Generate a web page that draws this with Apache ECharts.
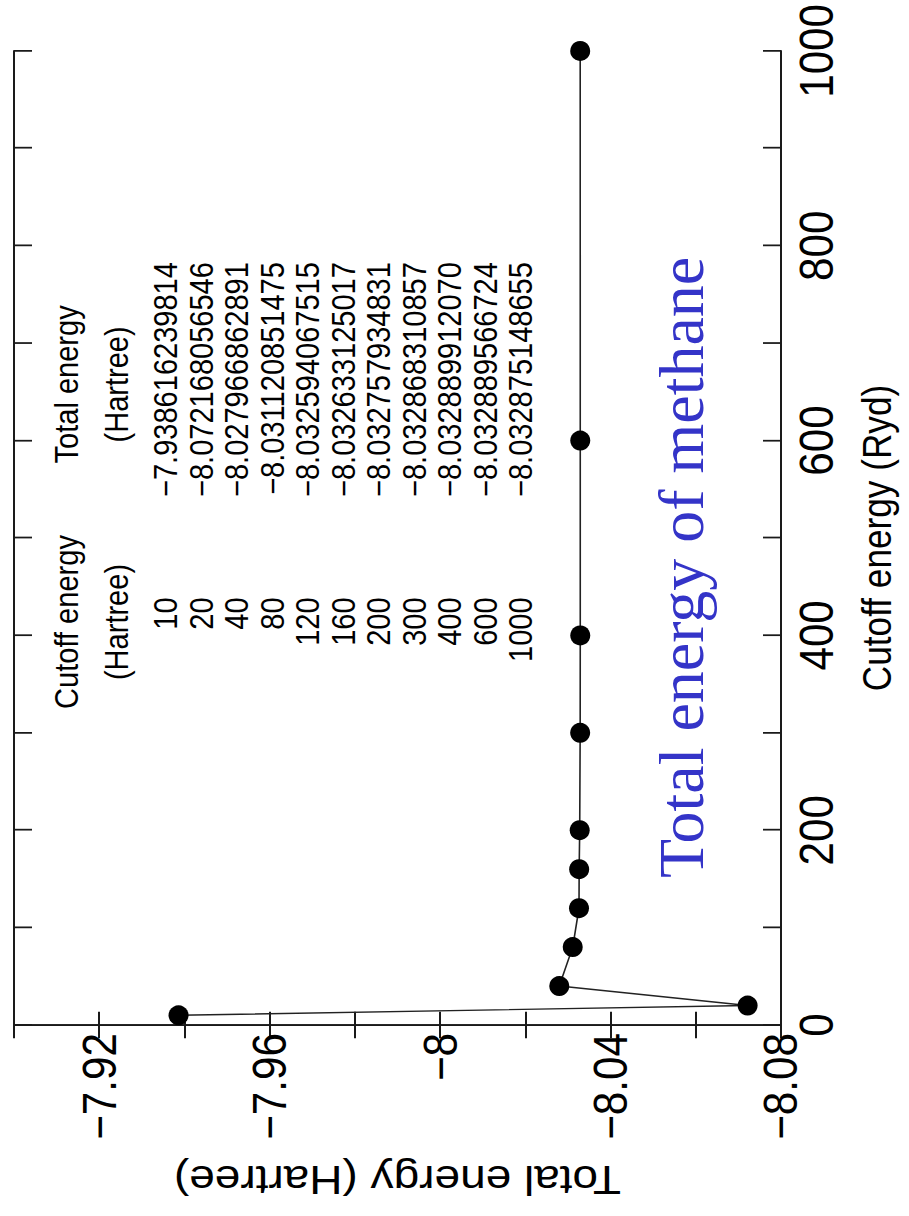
<!DOCTYPE html>
<html>
<head>
    <meta charset="utf-8">
    <title>Total energy of methane</title>
    <script src="https://cdn.jsdelivr.net/npm/echarts@6/dist/echarts.min.js"></script>
    <style type="text/css">
        * {
            margin: 0;
            padding: 0;
        }

        body {
            width: 909px;
            height: 1216px;
            overflow: hidden;
            background: #fff;
            position: relative;
        }

        /* the chart is drawn upright, then squeezed and turned a quarter to the left */
        #main {
            position: absolute;
            left: 0;
            top: 0;
            width: 1382px;
            height: 909px;
            transform-origin: 0 0;
            transform: translateY(1216px) rotate(-90deg) scaleX(0.88);
        }
    </style>
</head>
<body>
<div id="main"></div>
</body>
<script type="text/javascript">
    // cutoff energy and total energy of methane
    var cutoff = [10, 20, 40, 80, 120, 160, 200, 300, 400, 600, 1000];
    var energy = [-7.938616239814, -8.072168056546, -8.027966862891, -8.031120851475, -8.032594067515,
        -8.032633125017, -8.032757934831, -8.032868310857, -8.032889912070, -8.032889566724, -8.032875148655];
    var xTicks = [0, 200, 400, 600, 800, 1000];
    var yTicks = [-8.08, -8.04, -8, -7.96, -7.92];

    var squeeze = 0.88;
    var sans = '"Liberation Sans", Arial, sans-serif';

    function minus(s) {
        return s.replace('-', '\u2212');
    }

    var pts = [];
    for (var i = 0; i < cutoff.length; i++) {
        pts.push([cutoff[i], energy[i]]);
    }

    // little table printed inside the plot
    var graphics = [];
    var rowTop = 166, rowGap = 35.5;
    var tableFont = '33px ' + sans;
    var heads = [
        {text: 'Cutoff energy', x: 675, y: 67},
        {text: '(Hartree)', x: 675, y: 117},
        {text: 'Total energy', x: 945, y: 67},
        {text: '(Hartree)', x: 945, y: 117}
    ];
    heads.forEach(function (h) {
        graphics.push({
            type: 'text', x: h.x, y: h.y,
            style: {text: h.text, font: tableFont, fill: '#000', textAlign: 'center', textVerticalAlign: 'middle'}
        });
    });
    for (var k = 0; k < cutoff.length; k++) {
        graphics.push({
            type: 'text', x: 703, y: rowTop + rowGap * k,
            style: {text: String(cutoff[k]), font: tableFont, fill: '#000', textAlign: 'right', textVerticalAlign: 'middle'}
        });
        graphics.push({
            type: 'text', x: 1084, y: rowTop + rowGap * k,
            style: {text: minus(energy[k].toFixed(12)), font: tableFont, fill: '#000', textAlign: 'right', textVerticalAlign: 'middle'}
        });
    }
    // blue slide title, not squeezed
    graphics.push({
        type: 'text', x: 384, y: 713, scaleX: 1 / squeeze,
        style: {
            text: 'Total energy of methane', font: '64px "Liberation Serif", "Times New Roman", serif',
            fill: '#3434c8', textAlign: 'left', textVerticalAlign: 'bottom'
        }
    });

    var lineCol = '#1a1a1a';
    function xLabel(v) {
        return xTicks.indexOf(v) >= 0 ? String(v) : '';
    }
    function yLabel(v) {
        for (var i = 0; i < yTicks.length; i++) {
            if (Math.abs(yTicks[i] - v) < 1e-6) return minus(String(yTicks[i]));
        }
        return '';
    }

    var myChart = echarts.init(document.getElementById('main'), null, {renderer: 'svg'});
    var option = {
        animation: false,
        backgroundColor: '#fff',
        grid: {left: 217, right: 58, top: 14, bottom: 128},
        xAxis: [{
            type: 'value', min: 0, max: 1000, interval: 100,
            name: 'Cutoff energy (Ryd)', nameLocation: 'middle', nameGap: 76,
            nameTextStyle: {fontFamily: sans, fontSize: 40, color: '#000'},
            axisLine: {show: true, lineStyle: {color: lineCol, width: 2}},
            axisTick: {show: true, inside: true, length: 18, lineStyle: {color: lineCol, width: 2}},
            axisLabel: {margin: 12, fontFamily: sans, fontSize: 48, color: '#000', formatter: xLabel},
            splitLine: {show: false}
        }, {
            type: 'value', min: 0, max: 1000, interval: 100, position: 'top',
            axisLine: {show: true, lineStyle: {color: lineCol, width: 2}},
            axisTick: {show: true, inside: true, length: 18, lineStyle: {color: lineCol, width: 2}},
            axisLabel: {show: false},
            splitLine: {show: false}
        }],
        yAxis: [{
            type: 'value', min: -8.08, max: -7.90, interval: 0.02,
            name: 'Total energy (Hartree)', nameLocation: 'middle', nameGap: 153, nameRotate: 90,
            nameTextStyle: {fontFamily: sans, fontSize: 46, color: '#000'},
            axisLine: {show: true, lineStyle: {color: lineCol, width: 2}},
            axisTick: {show: true, inside: true, length: 15, lineStyle: {color: lineCol, width: 2}},
            axisLabel: {margin: 9, fontFamily: sans, fontSize: 48, color: '#000', formatter: yLabel},
            splitLine: {show: false}
        }, {
            type: 'value', min: -8.08, max: -7.90, interval: 0.02, position: 'right',
            axisLine: {show: true, lineStyle: {color: lineCol, width: 2}},
            axisTick: {show: true, inside: true, length: 15, lineStyle: {color: lineCol, width: 2}},
            axisLabel: {show: false},
            splitLine: {show: false}
        }],
        graphic: graphics,
        series: [{
            type: 'line',
            data: pts,
            symbol: 'circle',
            symbolSize: [20 / squeeze, 20],
            itemStyle: {color: '#000'},
            lineStyle: {color: '#222', width: 1.6},
            z: 5
        }]
    };
    myChart.setOption(option);
</script>
</html>
